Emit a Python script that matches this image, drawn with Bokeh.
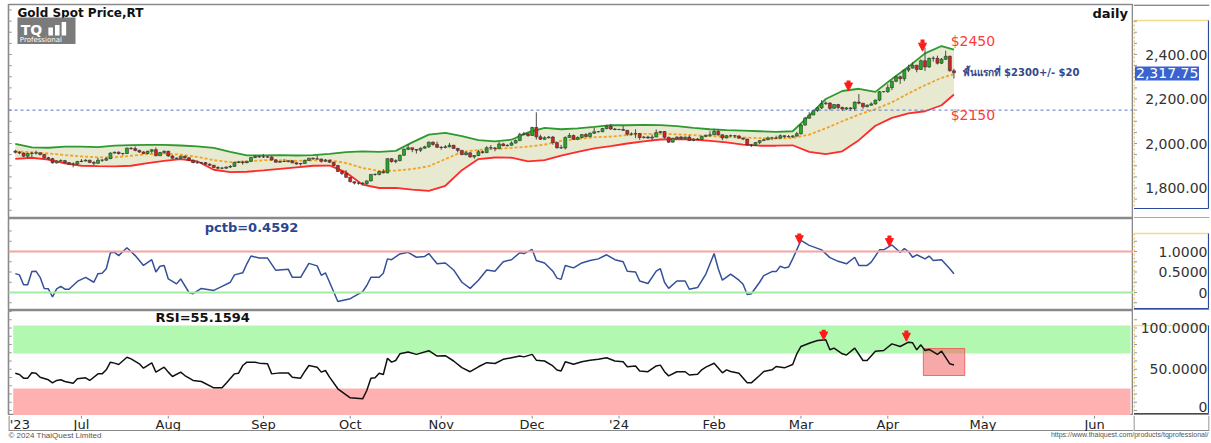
import numpy as np
from bokeh.plotting import figure
from bokeh.layouts import column, row
from bokeh.models import (Range1d, Span, BoxAnnotation, Label, Arrow, NormalHead)
from bokeh.embed import file_html
from bokeh.resources import INLINE

# ---------------- data (trading-day index 0 = 9 Jun 2023) ----------------
prev_close = 1965
closes = [
    1961, 1957, 1943, 1955, 1957, 1958, 1951, 1936, 1932, 1913,
    1921, 1923, 1914, 1907, 1908, 1919, 1921, 1925, 1915, 1911,
    1925, 1925, 1932, 1957, 1961, 1955, 1955, 1979, 1977, 1969,
    1962, 1955, 1965, 1972, 1945, 1959, 1965, 1944, 1934, 1933,
    1943, 1936, 1925, 1914, 1913, 1914, 1907, 1902, 1892, 1889,
    1889, 1894, 1897, 1915, 1917, 1914, 1920, 1937, 1942, 1940,
    1940, 1939, 1926, 1916, 1919, 1919, 1922, 1913, 1908, 1910,
    1924, 1934, 1931, 1930, 1920, 1925, 1916, 1901, 1874, 1865,
    1848, 1828, 1822, 1822, 1820, 1832, 1861, 1861, 1874, 1868,
    1932, 1919, 1923, 1947, 1974, 1981, 1973, 1970, 1979, 1985,
    2006, 1996, 1983, 1982, 1985, 1992, 1978, 1969, 1950, 1958,
    1940, 1946, 1963, 1959, 1981, 1980, 1978, 1998, 1990, 1992,
    2002, 2013, 2041, 2044, 2036, 2072, 2030, 2019, 2026, 2029,
    2004, 1981, 1980, 2027, 2036, 2019, 2027, 2040, 2031, 2046,
    2053, 2053, 2067, 2077, 2065, 2063, 2063, 2059, 2042, 2043,
    2045, 2027, 2029, 2025, 2029, 2049, 2054, 2028, 2006, 2023,
    2029, 2022, 2029, 2014, 2020, 2018, 2032, 2037, 2039, 2054,
    2039, 2025, 2035, 2035, 2034, 2024, 2020, 1993, 1992, 2004,
    2013, 2017, 2025, 2025, 2024, 2035, 2031, 2030, 2034, 2044,
    2083, 2114, 2128, 2148, 2160, 2179, 2182, 2158, 2175, 2162,
    2155, 2160, 2157, 2186, 2181, 2165, 2172, 2178, 2195, 2233,
    2233, 2251, 2280, 2300, 2291, 2330, 2339, 2352, 2333, 2372,
    2344, 2383, 2383, 2361, 2379, 2392, 2327, 2318,
]
highs = [
    1972, 1966, 1960, 1959, 1962, 1968, 1960, 1953, 1940, 1935,
    1925, 1929, 1926, 1917, 1915, 1922, 1930, 1929, 1927, 1921,
    1935, 1930, 1938, 1960, 1963, 1964, 1958, 1982, 1984, 1987,
    1972, 1965, 1968, 1975, 1982, 1962, 1969, 1967, 1947, 1937,
    1946, 1945, 1938, 1928, 1922, 1917, 1917, 1911, 1904, 1898,
    1895, 1897, 1903, 1917, 1922, 1923, 1922, 1938, 1948, 1946,
    1953, 1943, 1943, 1930, 1923, 1930, 1925, 1925, 1915, 1913,
    1927, 1935, 1937, 1947, 1932, 1930, 1926, 1918, 1904, 1880,
    1880, 1850, 1830, 1826, 1826, 1834, 1863, 1866, 1876, 1885,
    1933, 1934, 1929, 1950, 1978, 1997, 1980, 1975, 1982, 1990,
    2009, 2009, 2008, 1988, 1993, 2003, 1994, 1980, 1971, 1965,
    1960, 1948, 1971, 1968, 1988, 1993, 1984, 2007, 2003, 1996,
    2009, 2018, 2048, 2052, 2047, 2075, 2140, 2040, 2032, 2034,
    2034, 2006, 1994, 2032, 2047, 2040, 2032, 2043, 2047, 2050,
    2071, 2056, 2070, 2084, 2088, 2070, 2066, 2079, 2060, 2050,
    2064, 2047, 2034, 2035, 2040, 2063, 2056, 2055, 2030, 2026,
    2032, 2034, 2031, 2037, 2023, 2025, 2035, 2040, 2055, 2066,
    2065, 2041, 2038, 2040, 2038, 2037, 2027, 2021, 1998, 2006,
    2015, 2022, 2031, 2030, 2035, 2041, 2037, 2038, 2037, 2052,
    2088, 2120, 2141, 2152, 2165, 2195, 2189, 2185, 2177, 2178,
    2166, 2164, 2163, 2189, 2222, 2182, 2176, 2185, 2198, 2236,
    2236, 2266, 2282, 2305, 2305, 2331, 2354, 2365, 2353, 2378,
    2431, 2386, 2392, 2395, 2384, 2417, 2395, 2336,
]
lows = [
    1955, 1952, 1940, 1932, 1937, 1950, 1946, 1932, 1925, 1910,
    1910, 1917, 1910, 1903, 1893, 1903, 1916, 1920, 1912, 1902,
    1910, 1917, 1922, 1930, 1955, 1950, 1946, 1953, 1972, 1965,
    1957, 1952, 1952, 1955, 1943, 1944, 1953, 1940, 1930, 1929,
    1930, 1932, 1922, 1912, 1910, 1910, 1904, 1900, 1890, 1885,
    1884, 1886, 1890, 1896, 1912, 1905, 1911, 1918, 1934, 1935,
    1935, 1935, 1924, 1914, 1913, 1917, 1915, 1911, 1905, 1901,
    1910, 1922, 1927, 1928, 1914, 1918, 1913, 1897, 1872, 1858,
    1846, 1826, 1816, 1815, 1813, 1810, 1830, 1855, 1857, 1866,
    1866, 1914, 1911, 1920, 1945, 1970, 1961, 1955, 1962, 1977,
    1980, 1990, 1980, 1972, 1978, 1983, 1976, 1960, 1948, 1947,
    1936, 1932, 1943, 1955, 1957, 1973, 1965, 1974, 1988, 1987,
    1990, 2000, 2011, 2036, 2030, 2034, 2018, 2016, 2017, 2022,
    1995, 1977, 1976, 1973, 2027, 2016, 2015, 2023, 2028, 2030,
    2043, 2050, 2051, 2064, 2061, 2059, 2060, 2057, 2035, 2036,
    2024, 2016, 2022, 2021, 2013, 2030, 2046, 2022, 2002, 2005,
    2017, 2018, 2017, 2012, 2010, 2015, 2016, 2028, 2030, 2038,
    2035, 2015, 2023, 2030, 2025, 2022, 2015, 1990, 1984, 1990,
    1997, 2012, 2015, 2015, 2020, 2022, 2025, 2028, 2025, 2030,
    2040, 2080, 2111, 2128, 2142, 2155, 2174, 2150, 2157, 2155,
    2146, 2150, 2146, 2146, 2176, 2156, 2163, 2170, 2175, 2190,
    2230, 2228, 2240, 2275, 2268, 2280, 2321, 2337, 2320, 2331,
    2326, 2340, 2368, 2355, 2357, 2375, 2323, 2292,
]

# Bollinger band readings (every 4th trading day)
band_x = [0, 4, 8, 12, 16, 20, 24, 28, 32, 36, 40, 44, 48, 52, 56, 60, 64, 68, 72, 76,
          80, 84, 88, 92, 96, 100, 104, 108, 112, 116, 120, 124, 128, 132, 136, 140, 144, 148, 152, 156,
          160, 164, 168, 172, 176, 180, 184, 188, 192, 196, 200, 204, 208, 212, 216, 220, 224, 227]
band_upper = [1998, 1983, 1981, 1986, 1986, 1984, 1990, 1993, 1994, 1994, 1991, 1987, 1980, 1962, 1947, 1947, 1948, 1946, 1948, 1953,
              1961, 1965, 1962, 1967, 2005, 2040, 2048, 2033, 2015, 2010, 2017, 2050, 2070, 2064, 2068, 2075, 2083, 2082, 2084, 2083,
              2078, 2070, 2064, 2060, 2058, 2055, 2052, 2055, 2125, 2200, 2236, 2246, 2232, 2290, 2345, 2405, 2438, 2422]
band_mid = [1965, 1961, 1955, 1948, 1942, 1938, 1938, 1945, 1952, 1954, 1950, 1940, 1925, 1916, 1919, 1925, 1925, 1922, 1924, 1926,
            1912, 1890, 1877, 1878, 1885, 1898, 1930, 1962, 1971, 1975, 1980, 1986, 1995, 2012, 2020, 2028, 2031, 2038, 2043, 2044,
            2041, 2038, 2033, 2030, 2027, 2024, 2022, 2025, 2040, 2068, 2100, 2130, 2155, 2185, 2225, 2262, 2295, 2312]
band_lower = [1931, 1936, 1928, 1911, 1900, 1898, 1897, 1900, 1912, 1922, 1930, 1920, 1882, 1871, 1873, 1879, 1886, 1893, 1900, 1901,
              1870, 1815, 1800, 1801, 1793, 1787, 1810, 1880, 1930, 1937, 1936, 1920, 1925, 1945, 1962, 1978, 1988, 2000, 2010, 2018,
              2020, 2017, 2012, 2005, 1995, 1990, 1990, 1992, 1962, 1952, 1965, 2015, 2080, 2115, 2135, 2145, 2172, 2220]

# %b readings (index, value)
pctb_points = [
    (0, 0.46), (1, 0.43), (2, 0.19), (3, 0.19), (4, 0.51), (5, 0.52), (6, 0.37), (7, 0.10), (8, 0.09), (9, -0.11),
    (10, 0.09), (11, 0.15), (12, 0.08), (13, 0.08), (15, 0.27), (17, 0.37), (19, 0.25), (20, 0.46), (21, 0.47), (22, 0.58),
    (23, 0.97), (24, 0.98), (25, 0.90), (27, 1.09), (29, 0.90), (31, 0.66), (33, 0.80), (34, 0.50), (35, 0.64), (36, 0.66),
    (37, 0.33), (39, 0.21), (40, 0.33), (42, 0.00), (43, -0.03), (45, 0.10), (48, 0.05), (50, 0.15), (52, 0.25), (53, 0.43),
    (55, 0.48), (56, 0.70), (57, 0.89), (59, 0.84), (61, 0.84), (63, 0.54), (66, 0.57), (67, 0.37), (69, 0.37), (71, 0.71),
    (73, 0.65), (74, 0.42), (75, 0.48), (76, 0.25), (78, -0.22), (81, -0.15), (84, 0.02), (85, 0.17), (86, 0.37), (88, 0.37),
    (89, 0.47), (90, 0.82), (91, 0.80), (93, 0.94), (95, 0.98), (97, 0.86), (99, 0.88), (100, 0.95), (102, 0.70), (104, 0.72),
    (106, 0.55), (108, 0.25), (110, 0.10), (112, 0.30), (114, 0.55), (116, 0.52), (118, 0.75), (120, 0.80), (122, 0.97), (123, 0.95),
    (125, 1.05), (126, 0.78), (128, 0.72), (130, 0.52), (131, 0.35), (132, 0.32), (133, 0.66), (135, 0.60), (137, 0.72), (139, 0.78),
    (141, 0.82), (143, 0.92), (145, 0.80), (147, 0.75), (148, 0.52), (150, 0.50), (151, 0.28), (153, 0.22), (155, 0.52), (156, 0.58),
    (157, 0.25), (158, 0.10), (160, 0.28), (162, 0.28), (163, 0.08), (165, 0.12), (167, 0.45), (169, 0.95), (170, 0.58), (171, 0.30),
    (173, 0.45), (175, 0.30), (176, 0.20), (177, -0.05), (178, -0.03), (180, 0.25), (181, 0.41), (183, 0.51), (184, 0.51), (185, 0.64),
    (186, 0.60), (187, 0.62), (188, 0.82), (190, 1.27), (192, 1.15), (195, 1.04), (197, 0.85), (199, 0.76), (201, 0.70), (203, 0.86),
    (204, 0.66), (206, 0.66), (207, 0.74), (209, 1.04), (210, 1.04), (212, 1.16), (214, 0.98), (215, 1.07), (216, 1.00), (217, 0.86),
    (218, 0.92), (220, 0.82), (221, 0.89), (222, 0.78), (224, 0.80), (226, 0.58), (227, 0.4592),
]

# RSI readings (index, value)
rsi_points = [
    (0, 45.2), (1, 43.6), (2, 39.2), (3, 39.2), (4, 45.7), (5, 45.2), (6, 40.4), (8, 37.2), (9, 33.5), (10, 36.4),
    (11, 37.2), (12, 35.2), (14, 33.1), (15, 38.4), (17, 39.6), (18, 36.4), (20, 44.4), (21, 44.4), (22, 49.3), (23, 58.6),
    (24, 57.4), (25, 55.8), (27, 64.6), (28, 62.6), (30, 56.6), (31, 51.3), (33, 57.8), (34, 46.5), (36, 52.5), (37, 46.5),
    (38, 41.2), (40, 46.5), (41, 42.4), (43, 36.4), (45, 35.2), (48, 27.5), (50, 27.5), (51, 33.1), (53, 44.4), (54, 45.2),
    (55, 54.5), (56, 58.6), (58, 58.6), (59, 57.4), (61, 56.6), (62, 44.4), (64, 45.6), (66, 45.6), (67, 40.4), (69, 39.2),
    (70, 47.3), (71, 54.5), (73, 52.5), (74, 46.5), (75, 48.5), (76, 40.4), (78, 26.3), (81, 15.4), (84, 14.1), (85, 24.2),
    (86, 39.2), (87, 39.6), (88, 45.2), (89, 43.6), (90, 63.4), (91, 58.6), (92, 60.6), (93, 68.7), (95, 71.0), (97, 68.0),
    (100, 72.5), (102, 66.0), (104, 66.5), (106, 60.0), (108, 52.0), (110, 47.0), (112, 53.0), (114, 58.0), (116, 57.0), (118, 62.0),
    (120, 64.0), (122, 66.0), (123, 65.0), (125, 68.0), (126, 61.0), (128, 60.0), (130, 54.0), (131, 49.0), (132, 48.0), (133, 59.0),
    (135, 56.0), (137, 59.0), (139, 61.0), (141, 62.0), (143, 64.0), (145, 60.0), (147, 59.0), (148, 53.0), (150, 54.0), (151, 48.0),
    (153, 47.0), (155, 54.0), (156, 55.0), (157, 47.0), (158, 42.0), (160, 47.0), (162, 47.0), (163, 43.0), (165, 44.0), (166, 49.3),
    (167, 52.5), (169, 57.3), (171, 45.7), (172, 49.3), (173, 47.3), (175, 45.2), (177, 33.5), (178, 33.5), (180, 42.4), (181, 47.3),
    (183, 49.3), (184, 53.3), (186, 51.7), (188, 55.8), (189, 68.7), (190, 77.6), (192, 81.6), (194, 84.8), (196, 85.7), (197, 73.6),
    (198, 75.6), (200, 68.7), (201, 67.3), (203, 75.6), (205, 60.6), (206, 60.6), (208, 71.9), (210, 72.7), (212, 80.8), (214, 77.6),
    (216, 82.8), (217, 82.0), (218, 73.6), (219, 79.6), (220, 72.7), (221, 74.0), (223, 67.9), (224, 71.9), (226, 56.6), (227, 55.1594),
]

month_ticks = [1.1, 16, 37, 60, 81, 103, 125, 146, 169, 190, 211, 234, 261]
month_labels = ["'23", "Jul", "Aug", "Sep", "Oct", "Nov", "Dec", "'24", "Feb", "Mar", "Apr", "May", "Jun"]

price_ticks = [1800, 2000, 2200, 2400]
pctb_ticks = [0, 0.5, 1.0]
pctb_tick_labels = ["0", "0.5000", "1.0000"]
rsi_ticks = [0, 50, 100]
rsi_tick_labels = ["0", "50.0000", "100.0000"]

last_price = 2317.75
support_level = 2150
target_up = 2450
pctb_last = 0.4592
rsi_last = 55.1594
pctb_upper_line, pctb_lower_line = 1.0, 0.0
rsi_high_zone = (69, 103)
rsi_low_zone = (-6.06, 26.7)

# annotation arrows (index, y_start, y_end)
price_arrows = [(201.5, 2283, 2236), (219.4, 2467, 2415)]
pctb_arrows = [(189.6, 1.44, 1.19), (211.4, 1.39, 1.12)]
rsi_arrows = [(195.5, 98, 85.5), (215.5, 97, 84)]

# ---------------- layout helpers (pixel geometry of the page) ----------------
FONT = "DejaVu Sans"
XR = Range1d(-1.644, 270.42)   # plot frames span x = 8 .. 1133 px
FW = 1125
AW = 76                        # axis box panel width (x = 1133 .. 1209)
GRAY = "#8a8a8a"


def price_at(ypx):              # main panel: 2000 at y=143, 0.2225 px per $
    return 2000 + (143 - ypx) / 0.2225


def pctb_at(ypx):               # %b panel: 0 at y=292, 41 px per unit
    return (292 - ypx) / 41.0


def rsi_at(ypx):                # RSI panel: 0 at y=410, 0.825 px per unit
    return (410 - ypx) / 0.825


def bare(fig):
    fig.xgrid.visible = False
    fig.ygrid.visible = False
    fig.border_fill_color = "white"
    fig.background_fill_color = "white"
    return fig


def panel_fig(fh, yr, mb_top=0):
    p = figure(frame_width=FW, frame_height=fh, x_range=XR, y_range=yr,
               output_backend="svg", toolbar_location=None,
               x_axis_location=None, y_axis_location=None,
               min_border_left=8, min_border_right=0, min_border_top=mb_top, min_border_bottom=0)
    bare(p)
    p.outline_line_color = GRAY
    p.outline_line_width = 1.6
    return p


def axis_fig(fh, yr, mb_top=0):
    a = figure(frame_width=AW, frame_height=fh, x_range=Range1d(0, AW), y_range=yr,
               output_backend="svg", toolbar_location=None,
               x_axis_location=None, y_axis_location=None,
               min_border_left=0, min_border_right=2, min_border_top=mb_top, min_border_bottom=0)
    bare(a)
    a.outline_line_color = None
    return a


def axis_box(a, y_top, y_bot, y_sep, conv, tick_vals):
    t, b = conv(y_top), conv(y_bot)
    a.segment(x0=[0.5], y0=[t], x1=[75], y1=[t], line_color="#f3d98a", line_width=1.5)
    a.segment(x0=[0.5], y0=[t], x1=[0.5], y1=[b], line_color="#e2bd55", line_width=1.5, line_dash="2 2")
    a.segment(x0=[75], y0=[t], x1=[75], y1=[b], line_color="#2c4a9c", line_width=1.2)
    a.segment(x0=[0.5], y0=[b], x1=[75], y1=[b], line_color="#2c4a9c", line_width=1.2)
    a.segment(x0=[0], y0=[conv(y_sep)], x1=[AW], y1=[conv(y_sep)], line_color=GRAY, line_width=1.6)
    a.segment(x0=[0.5] * len(tick_vals), y0=tick_vals, x1=[3.5] * len(tick_vals), y1=tick_vals,
              line_color="#9a9a9a", line_width=1)


def tick_label(a, y, text):
    a.add_layout(Label(x=74, y=y, text=text, text_align="right", text_baseline="middle",
                       text_font=FONT, text_font_size="14px", text_color="#333333"))


def left_ticks(p, vals):
    p.segment(x0=[XR.start] * len(vals), y0=vals, x1=[XR.start + 0.8] * len(vals), y1=vals,
              line_color="#9a9a9a", line_width=1)


def add_arrows(p, arrows):
    for ax_, y0, y1 in arrows:
        p.add_layout(Arrow(end=NormalHead(size=8, fill_color="#ff1a1a", line_color="#ff1a1a", line_width=1),
                           x_start=ax_, y_start=y0, x_end=ax_, y_end=y1,
                           line_color="#ff1a1a", line_width=4))


# ---------- main price panel (frame y = 4 .. 218) ----------
YR1 = Range1d(price_at(218), price_at(4))
p1 = panel_fig(214, YR1, mb_top=4)
left_ticks(p1, list(range(1700, 2601, 50)))

p1.varea(x=band_x, y1=band_lower, y2=band_upper, fill_color="#e7e9d1")
p1.line(band_x, band_upper, line_color="#2e9a2e", line_width=1.8)
p1.line(band_x, band_lower, line_color="#ff2a2a", line_width=1.8)
p1.line(band_x, band_mid, line_color="#f5a21e", line_width=1.8, line_dash="3 2")

idx = np.arange(len(closes))
c = np.array(closes, float)
o = np.array([prev_close] + closes[:-1], float)
up = c >= o
p1.segment(x0=idx, y0=lows, x1=idx, y1=highs, line_color="#4a4a4a", line_width=1)
top = np.maximum(o, c)
bot = np.minimum(o, c)
p1.vbar(x=idx[up], top=top[up], bottom=bot[up], width=0.72,
        fill_color="#21ad21", line_color="#2f2f2f", line_width=0.6)
p1.vbar(x=idx[~up], top=top[~up], bottom=bot[~up], width=0.72,
        fill_color="#d42222", line_color="#2f2f2f", line_width=0.6)

p1.add_layout(Span(location=support_level, dimension="width", line_color="#5b78c9",
                   line_dash="3 3", line_width=1))
add_arrows(p1, price_arrows)

p1.add_layout(Label(x=0.53, y=price_at(12.5), text="Gold Spot Price,RT", text_font=FONT,
                    text_font_style="bold", text_font_size="12px", text_color="#111111",
                    text_baseline="middle"))
p1.add_layout(Label(x=260.5, y=price_at(12.5), text="daily", text_font=FONT, text_font_style="bold",
                    text_font_size="13px", text_color="#111111", text_baseline="middle"))
p1.add_layout(BoxAnnotation(left=0.53, right=14.56, bottom=price_at(43.5), top=price_at(17),
                            fill_color="#7b7b7b", fill_alpha=1, line_alpha=0, level="annotation"))
p1.add_layout(Label(x=1.3, y=price_at(29.5), text="TQ", text_font=FONT, text_font_style="bold",
                    text_font_size="14px", text_color="white", text_baseline="middle"))
for bx, btop in [(8.0, 27), (9.6, 24.5), (11.2, 21.5)]:
    p1.add_layout(BoxAnnotation(left=bx, right=bx + 1.1, bottom=price_at(35), top=price_at(btop),
                                fill_color="white", fill_alpha=1, line_alpha=0, level="annotation"))
p1.add_layout(Label(x=1.1, y=price_at(39.8), text="Professional", text_font=FONT,
                    text_font_size="7px", text_color="white", text_baseline="middle"))

p1.add_layout(Label(x=226.2, y=price_at(40), text="$" + str(target_up), text_font=FONT,
                    text_font_size="14px", text_color="#ff3b3b", text_baseline="middle"))
p1.add_layout(Label(x=226.2, y=price_at(114), text="$" + str(support_level), text_font=FONT,
                    text_font_size="14px", text_color="#ff3b3b", text_baseline="middle"))
p1.add_layout(Label(x=229.1, y=price_at(72), text="พื้นแรกที่ $2300+/- $20", text_font=FONT,
                    text_font_style="bold", text_font_size="10px", text_color="#34468a",
                    text_baseline="middle"))

a1 = axis_fig(214, YR1, mb_top=4)
axis_box(a1, 20, 208, 217.6, price_at, list(range(1750, 2551, 50)))
for t in price_ticks:
    tick_label(a1, t, f"{t:,.2f}")
a1.quad(left=[1.5], right=[65.5], bottom=[price_at(80)], top=[price_at(66)],
        fill_color="#3a63d0", line_color=None)
a1.add_layout(Label(x=2.5, y=last_price, text=f"{last_price:,.2f}", text_align="left",
                    text_baseline="middle", text_font=FONT, text_font_size="14px", text_color="white"))
a1.segment(x0=[0], y0=[price_at(4.6)], x1=[AW], y1=[price_at(4.6)], line_color=GRAY, line_width=1.6)

# ---------- %b panel (frame y = 218 .. 310) ----------
YR2 = Range1d(pctb_at(310), pctb_at(218))
p2 = panel_fig(92, YR2)
left_ticks(p2, [-0.25, 0, 0.25, 0.5, 0.75, 1.0, 1.25, 1.5])
p2.add_layout(Span(location=pctb_upper_line, dimension="width", line_color="#f5a3a3", line_width=1.8))
p2.add_layout(Span(location=pctb_lower_line, dimension="width", line_color="#a6eaa6", line_width=1.8))
p2.line([q[0] for q in pctb_points], [q[1] for q in pctb_points], line_color="#34509a", line_width=1.5)
add_arrows(p2, pctb_arrows)
p2.add_layout(Label(x=45.8, y=pctb_at(226.7), text=f"pctb={pctb_last}", text_font=FONT,
                    text_font_style="bold", text_font_size="13px", text_color="#2a4690",
                    text_baseline="middle"))

a2 = axis_fig(92, YR2)
axis_box(a2, 233, 308, 309.4, pctb_at, [-0.25, 0, 0.25, 0.5, 0.75, 1.0, 1.25])
for t, s in zip(pctb_ticks, pctb_tick_labels):
    tick_label(a2, t, s)

# ---------- RSI panel (frame y = 310 .. 415) ----------
YR3 = Range1d(rsi_at(415), rsi_at(310))
p3 = panel_fig(105, YR3)
left_ticks(p3, list(range(0, 121, 10)))
p3.add_layout(BoxAnnotation(left=-0.5, right=269.7, bottom=rsi_high_zone[0], top=rsi_high_zone[1],
                            fill_color="#b3f8b0", fill_alpha=1, line_alpha=0, level="underlay"))
p3.add_layout(BoxAnnotation(left=-0.5, right=269.7, bottom=rsi_low_zone[0], top=rsi_low_zone[1],
                            fill_color="#ffb1b1", fill_alpha=1, line_alpha=0, level="underlay"))
p3.add_layout(BoxAnnotation(left=219.6, right=229.6, bottom=rsi_at(375), top=rsi_at(348),
                            fill_color="#f06262", fill_alpha=0.55, line_color="#f05050",
                            line_alpha=0.8, line_width=1, level="underlay"))
p3.line([q[0] for q in rsi_points], [q[1] for q in rsi_points], line_color="#111111", line_width=1.5)
add_arrows(p3, rsi_arrows)
p3.add_layout(Label(x=33.9, y=rsi_at(317.3), text=f"RSI={rsi_last}", text_font=FONT,
                    text_font_style="bold", text_font_size="13px", text_color="#111111",
                    text_baseline="middle"))

a3 = axis_fig(105, YR3)
axis_box(a3, 325, 413, 414.4, rsi_at, list(range(0, 111, 10)))
for t, s in zip(rsi_ticks, rsi_tick_labels):
    # keep the lowest label fully inside the panel (its tick is 5 px above the panel edge)
    tick_label(a3, t if t > 0 else rsi_at(406.5), s)

# ---------- date axis row (y = 415 .. 431) ----------
xrow = figure(frame_width=FW, frame_height=16, x_range=XR, y_range=Range1d(0, 16),
              output_backend="svg", toolbar_location=None, x_axis_location=None, y_axis_location=None,
              min_border_left=8, min_border_right=0, min_border_top=0, min_border_bottom=0)
bare(xrow)
xrow.outline_line_color = None
nt = len(month_ticks)
xrow.segment(x0=month_ticks[1:], y0=[16] * (nt - 1), x1=month_ticks[1:], y1=[13] * (nt - 1),
             line_color=GRAY, line_width=1)
xrow.segment(x0=[XR.start], y0=[0.7], x1=[XR.end], y1=[0.7], line_color=GRAY, line_width=1.4)
xrow.segment(x0=[XR.start + 0.1], y0=[0], x1=[XR.start + 0.1], y1=[16], line_color=GRAY, line_width=1.4)
for t, s in zip(month_ticks, month_labels):
    xrow.add_layout(Label(x=t, y=6.8, text=s, text_align="center", text_baseline="middle",
                          text_font=FONT, text_font_size="13px", text_color="#222222"))

xr_r = figure(frame_width=AW, frame_height=16, x_range=Range1d(0, AW), y_range=Range1d(0, 16),
              output_backend="svg", toolbar_location=None, x_axis_location=None, y_axis_location=None,
              min_border_left=0, min_border_right=2, min_border_top=0, min_border_bottom=0)
bare(xr_r)
xr_r.outline_line_color = None
xr_r.segment(x0=[0.5], y0=[0], x1=[0.5], y1=[16], line_color=GRAY, line_width=1.2)
xr_r.segment(x0=[0], y0=[0.7], x1=[75.5], y1=[0.7], line_color=GRAY, line_width=1.4)
xr_r.segment(x0=[75.5], y0=[0], x1=[75.5], y1=[16], line_color=GRAY, line_width=1.2)

# ---------- footer (y = 431 .. 443) ----------
foot = figure(frame_width=1211, frame_height=12, x_range=Range1d(0, 1211), y_range=Range1d(0, 12),
              output_backend="svg", toolbar_location=None, x_axis_location=None, y_axis_location=None,
              min_border=0)
bare(foot)
foot.outline_line_color = None
foot.add_layout(Label(x=8, y=8.3, text="© 2024 ThaiQuest Limited", text_font="Liberation Sans",
                      text_font_size="8px", text_color="#555555", text_baseline="middle"))
foot.add_layout(Label(x=1208, y=8.8, text="https://www.thaiquest.com/products/tqprofessional/",
                      text_font="Liberation Sans", text_font_size="7px", text_color="#555555",
                      text_baseline="middle", text_align="right"))

root = column(row(p1, a1), row(p2, a2), row(p3, a3), row(xrow, xr_r), foot)
open("out.html", "w").write(file_html(root, INLINE, title="Gold Spot Price"))
